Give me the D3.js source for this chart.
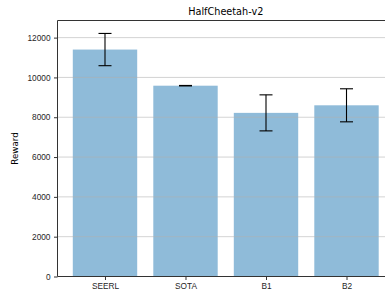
<!DOCTYPE html>
<meta charset="utf-8">
<html>
<head>
<style>
  body { margin: 0; background: #fff; }
  svg { display: block; font-family: 'DejaVu Sans', sans-serif; }
  .grid line { stroke: #b0b0b0; stroke-opacity: 0.7; stroke-width: 0.8px; }
  .axis text { fill: #262626; font-size: 8.3px; }
  .axis path, .axis line { stroke: #333; }
</style>
</head>
<body>
<svg width="385" height="293"></svg>
<script src="https://cdn.jsdelivr.net/npm/d3@7"></script>
<script>
var methods = ["SEERL", "SOTA", "B1", "B2"];
var rewards = [11400, 9585, 8220, 8600];
var errors = [810, 12, 905, 830];
var yTicks = [0, 2000, 4000, 6000, 8000, 10000, 12000];

var svg = d3.select("svg"),
    margin = {top: 20.5, left: 57.5, bottom: 276.5, right: 394};

// matplotlib style: bar centres at 0..3, width 0.8, 5% margin
var x = d3.scaleLinear().domain([-0.59, 3.59]).range([margin.left, margin.right]);
var y = d3.scaleLinear().domain([0, 12860]).range([margin.bottom, margin.top]);
var barW = x(0.8) - x(0);

svg.append("g")
    .selectAll("rect")
    .data(methods)
    .enter().append("rect")
      .attr("x", function(d, i) { return x(i - 0.4); })
      .attr("y", function(d, i) { return y(rewards[i]); })
      .attr("width", barW)
      .attr("height", function(d, i) { return y(0) - y(rewards[i]); })
      .attr("fill", "#8fbbd9");

// gridlines sit on top of bars
svg.append("g")
    .attr("class", "grid")
  .selectAll("line")
  .data(yTicks.slice(1))
  .enter().append("line")
    .attr("x1", margin.left).attr("x2", margin.right)
    .attr("y1", function(d) { return y(d); })
    .attr("y2", function(d) { return y(d); });

// error bars
var err = svg.append("g")
    .attr("stroke", "#000")
    .attr("stroke-width", 1.1);
methods.forEach(function(m, i) {
  var cx = x(i), lo = y(rewards[i] - errors[i]), hi = y(rewards[i] + errors[i]);
  err.append("line").attr("x1", cx).attr("x2", cx).attr("y1", lo).attr("y2", hi);
  err.append("line").attr("x1", cx - 6.5).attr("x2", cx + 6.5).attr("y1", lo).attr("y2", lo);
  err.append("line").attr("x1", cx - 6.5).attr("x2", cx + 6.5).attr("y1", hi).attr("y2", hi);
});

svg.append("g")
    .attr("class", "axis")
    .attr("transform", "translate(" + margin.left + ",0)")
    .call(d3.axisLeft(y).tickValues(yTicks).tickSize(3.5).tickPadding(3.5).tickFormat(d3.format("d")))
    .call(function(g) { g.select(".domain").remove(); });

svg.append("g")
    .attr("class", "axis")
    .attr("transform", "translate(0," + margin.bottom + ")")
    .call(d3.axisBottom(x).tickValues([0, 1, 2, 3]).tickSize(3.5).tickPadding(3.5)
      .tickFormat(function(d) { return methods[d]; }))
    .call(function(g) { g.select(".domain").remove(); });

// spines
var spine = svg.append("g").attr("stroke", "#333").attr("stroke-width", 1);
spine.append("line").attr("x1", margin.left).attr("x2", margin.left).attr("y1", margin.top).attr("y2", margin.bottom);
spine.append("line").attr("x1", margin.left).attr("x2", margin.right).attr("y1", margin.bottom).attr("y2", margin.bottom);
spine.append("line").attr("x1", margin.left).attr("x2", margin.right).attr("y1", margin.top).attr("y2", margin.top);

svg.append("text")
    .attr("x", (margin.left + margin.right) / 2)
    .attr("y", 15)
    .attr("text-anchor", "middle")
    .attr("fill", "#000")
    .style("font-size", "9.7px")
    .text("HalfCheetah-v2");

svg.append("text")
    .attr("transform", "translate(18," + (margin.top + margin.bottom) / 2 + ") rotate(-90)")
    .attr("text-anchor", "middle")
    .attr("fill", "#000")
    .style("font-size", "8.7px")
    .text("Reward");
</script>
</body>
</html>
